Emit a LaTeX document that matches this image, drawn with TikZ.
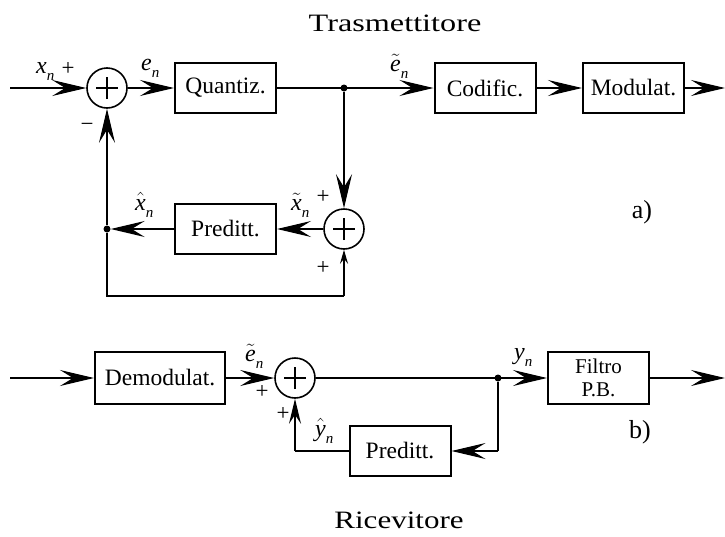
\documentclass[tikz,border=0pt]{standalone}
\usepackage{fontspec}
\usepackage{graphicx}
\setmainfont{Liberation Serif}
\usetikzlibrary{arrows.meta}
\newcommand\plainsig[1]{\fontsize{24}{26}\selectfont\itshape #1\raisebox{-7pt}{\fontsize{15}{16}\selectfont n}}
\newcommand\accsig[2]{\fontsize{24}{26}\selectfont$#1{\hbox{\itshape #2}}$\raisebox{-7pt}{\fontsize{15}{16}\selectfont\itshape n}}
\begin{document}
\begin{tikzpicture}[x=1pt,y=-1pt,
  blk/.style={draw,line width=2pt,minimum width=101pt,minimum height=50pt,inner sep=0pt,font=\fontsize{23.5}{25}\selectfont},
  sum/.style={draw,circle,line width=1.6pt,minimum size=40pt,inner sep=0pt,
    path picture={\draw[line width=2pt]
      ([xshift=-11pt]path picture bounding box.center)--([xshift=11pt]path picture bounding box.center)
      ([yshift=-11pt]path picture bounding box.center)--([yshift=11pt]path picture bounding box.center);}},
  wire/.style={line width=1.2pt},
  arr/.style={wire,-{Stealth[length=34pt,width=16pt,inset=13pt]}},
  marr/.style={wire,-{Stealth[length=25pt,width=12pt,inset=9pt]}},
  sarr/.style={wire,-{Stealth[length=14pt,width=8pt,inset=5pt]}},
  dot/.style={circle,fill,inner sep=0pt,minimum size=7pt},
  sgn/.style={font=\fontsize{23}{25}\selectfont,inner sep=0pt},
  lab/.style={inner sep=0pt,anchor=base west},
  ttl/.style={inner sep=0pt,anchor=base,font=\fontsize{25}{27}\selectfont},
  tag/.style={inner sep=0pt,font=\fontsize{26}{28}\selectfont}
]
\useasboundingbox (0,0) rectangle (725,536);
% titles
\node[ttl] (t1) at (395,31) {\scalebox{1.29}[1]{Trasmettitore}};
\node[ttl] (t2) at (399,528) {\scalebox{1.24}[1]{Ricevitore}};
% ---- transmitter ----
\coordinate (in1) at (10,88);
\coordinate (out1) at (725,88);
\node[sum] (s1) at (107,88) {};
\node[blk] (q) at (225.5,88) {Quantiz.};
\node[dot] (d1) at (344,88) {};
\node[blk] (c) at (485,88) {Codific.};
\node[blk] (m) at (633.5,88) {Modulat.};
\node[sum] (s2) at (344,229) {};
\node[blk] (p1) at (225.5,229) {Preditt.};
\node[dot] (d2) at (107,229) {};
\coordinate (c1) at (107,296);
\coordinate (c2) at (344,296);
\draw[arr] (in1) -- (s1);
\draw[arr] (s1) -- (q);
\draw[arr] (q) -- (c);
\draw[arr] (c) -- (m);
\draw[arr] (m) -- (out1);
\draw[arr] (d1) -- (s2);
\draw[arr] (s2) -- (p1);
\draw[arr] (p1) -- (d2);
\draw[arr] (d2) -- (s1);
\draw[wire] (d2) -- (c1) -- (c2);
\draw[sarr] (c2) -- (s2);
\node[lab] (lx) at (36,73) {\plainsig{x}};
\node[sgn] (px) at (68,69) {+};
\node[lab] (le) at (141,70) {\plainsig{e}};
\node[lab] (lte) at (390,71) {\accsig{\tilde}{e}};
\node[lab] (ltx) at (291,210) {\accsig{\tilde}{x}};
\node[lab] (lhx) at (135,210) {\accsig{\hat}{x}};
\node[sgn] (mn) at (87,127) {−};
\node[sgn] (p2a) at (323,197) {+};
\node[sgn] (p2b) at (323,268) {+};
\node[tag] (ta) at (642,212) {a)};
% ---- receiver ----
\coordinate (in2) at (10,378);
\coordinate (out2) at (725,378);
\node[blk,minimum width=130pt,minimum height=52pt] (dm) at (160,378) {Demodulat.};
\node[sum] (s3) at (295,378) {};
\node[dot] (d3) at (498,378) {};
\node[blk,minimum height=52pt,align=center,font=\fontsize{21}{23}\selectfont] (f) at (598.5,378) {Filtro\\P.B.};
\node[blk] (p2) at (400,451) {Preditt.};
\coordinate (c3) at (498,451);
\coordinate (c4) at (295,451);
\draw[arr] (in2) -- (dm);
\draw[arr] (dm) -- (s3);
\draw[arr] (s3) -- (f);
\draw[arr] (f) -- (out2);
\draw[wire] (d3) -- (c3);
\draw[arr] (c3) -- (p2);
\draw[wire] (p2) -- (c4);
\draw[marr] (c4) -- (s3);
\node[lab] (lte2) at (245,361) {\accsig{\tilde}{e}};
\node[sgn] (p3a) at (262,392) {+};
\node[lab] (ly) at (514,359) {\plainsig{y}};
\node[sgn] (p3b) at (283,414) {+};
\node[lab] (lhy) at (315,436) {\accsig{\hat}{y}};
\node[tag] (tb) at (640,432) {b)};
\end{tikzpicture}
\end{document}
